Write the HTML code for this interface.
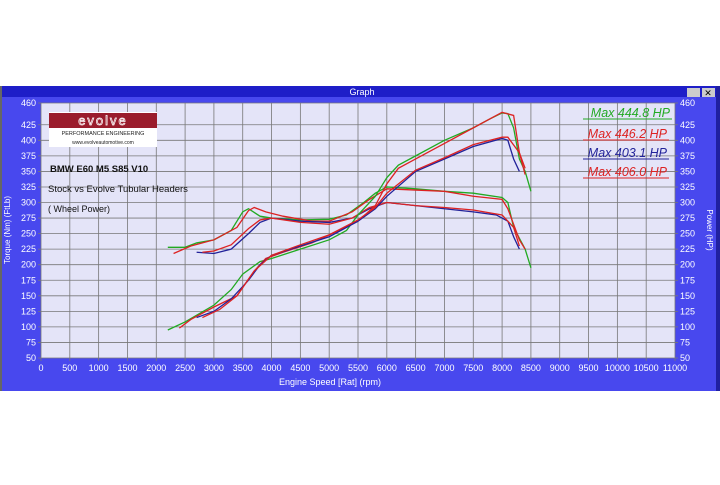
<!DOCTYPE html>
<html><head><meta charset="utf-8"><style>
body{margin:0;width:720px;height:480px;background:#fff;overflow:hidden;font-family:"Liberation Sans",sans-serif}
</style></head><body>
<svg width="720" height="480" xmlns="http://www.w3.org/2000/svg" font-family="Liberation Sans, sans-serif">
<rect x="0" y="86" width="720" height="305" fill="#4848ee"/>
<rect x="0" y="86" width="720" height="11" fill="#1e1ec8"/>
<rect x="0" y="86" width="2" height="305" fill="#666"/>
<rect x="716" y="86" width="4" height="305" fill="#2020a0"/>
<text x="362" y="95" font-size="9" fill="#fff" text-anchor="middle">Graph</text>
<rect x="687" y="88" width="13" height="9" fill="#ccc"/><rect x="702" y="88" width="13" height="9" fill="#ccc"/>
<text x="708" y="96" font-size="9" text-anchor="middle">✕</text>
<rect x="41" y="103" width="634" height="255" fill="#e4e4f8"/>
<g id="grid" stroke="#777" stroke-width="0.8"></g>
<g id="lbl" font-size="9" fill="#fff"></g>
<text x="10" y="230" font-size="8" fill="#fff" transform="rotate(-90 10 230)" text-anchor="middle">Torque (Nm) (FtLb)</text>
<text x="707" y="230" font-size="8" fill="#fff" transform="rotate(90 707 230)" text-anchor="middle">Power (HP)</text>
<text x="330" y="385" font-size="9" fill="#fff" text-anchor="middle">Engine Speed [Rat] (rpm)</text>
<rect x="49" y="112" width="108" height="35" fill="#fff"/>
<rect x="49" y="113" width="108" height="15" fill="#9a1c2c"/>
<text x="103" y="125" font-size="13" fill="none" stroke="#fff" stroke-width="0.7" text-anchor="middle" letter-spacing="2">evolve</text>
<text x="103" y="135" font-size="5.5" fill="#222" text-anchor="middle">PERFORMANCE ENGINEERING</text>
<text x="103" y="144" font-size="5" fill="#222" text-anchor="middle">www.evolveautomotive.com</text>
<text x="50" y="172" font-size="9.5" font-weight="bold" fill="#111">BMW E60 M5 S85 V10</text>
<text x="48" y="192" font-size="9.5" fill="#111">Stock vs Evolve Tubular Headers</text>
<text x="48" y="212" font-size="9" fill="#111">( Wheel Power)</text>
<g font-size="12.5" font-style="italic" text-anchor="end">
<text x="670" y="117" fill="#22aa22">Max 444.8 HP</text><line x1="583" y1="119" x2="672" y2="119" stroke="#22aa22"/>
<text x="667" y="138" fill="#dd2222">Max 446.2 HP</text><line x1="583" y1="140" x2="669" y2="140" stroke="#dd2222"/>
<text x="667" y="157" fill="#222299">Max 403.1 HP</text><line x1="583" y1="159" x2="669" y2="159" stroke="#222299"/>
<text x="667" y="176" fill="#dd2222">Max 406.0 HP</text><line x1="583" y1="178" x2="669" y2="178" stroke="#dd2222"/>
</g>
<g id="curves" fill="none" stroke-width="1.3"></g>
</svg>
<script>
var NS="http://www.w3.org/2000/svg";
function X(r){return 41+r*634/11000}
function Y(v){return 358-(v-50)*255/410}
var g=document.getElementById('grid'),l=document.getElementById('lbl');
function el(p,t,a,txt){var e=document.createElementNS(NS,t);for(var k in a)e.setAttribute(k,a[k]);if(txt!==undefined)e.textContent=String(txt);p.appendChild(e);return e}
for(var r=0;r<=11000;r+=500){el(g,'line',{x1:X(r),x2:X(r),y1:103,y2:361});el(l,'text',{x:X(r),y:371,'text-anchor':'middle'},r)}
var vs=[50,75,100,125,150,175,200,225,250,275,300,325,350,375,400,425,460];
vs.forEach(function(vv){el(g,'line',{x1:38,x2:678,y1:Y(vv),y2:Y(vv)});el(l,'text',{x:36,y:Y(vv)+3,'text-anchor':'end'},vv);el(l,'text',{x:680,y:Y(vv)+3},vv);});
var c=document.getElementById('curves');
var S=[
['#22aa22',[[2200,228],[2500,228],[2700,235],[3000,240],[3300,255],[3500,285],[3600,290],[3800,278],[4000,275],[4500,272],[5000,273],[5300,280],[5600,300],[5800,315],[6000,325],[6500,322],[7000,318],[7500,315],[8000,308],[8100,300],[8200,260],[8400,225],[8500,195]]],
['#dd2222',[[2300,218],[2600,230],[3000,240],[3400,260],[3600,287],[3700,292],[3900,285],[4200,278],[4700,270],[5000,270],[5400,285],[5700,305],[6000,322],[6500,320],[7000,318],[7500,310],[8000,305],[8100,290],[8300,240],[8400,225]]],
['#222299',[[2700,220],[3000,218],[3300,225],[3600,250],[3800,268],[4000,275],[4500,270],[5000,268],[5400,275],[5700,290],[6000,300],[6500,295],[7000,290],[7500,285],[7900,280],[8100,270],[8200,245],[8300,225]]],
['#dd2222',[[2800,220],[3000,222],[3300,232],[3600,258],[3800,272],[4000,275],[4500,268],[5000,265],[5400,275],[5700,292],[6000,300],[6500,295],[7000,292],[7500,288],[8000,280],[8200,260],[8300,230]]],
['#22aa22',[[2200,95],[2500,108],[3000,135],[3300,160],[3500,185],[3800,205],[4000,210],[4500,225],[5000,240],[5300,255],[5500,280],[5800,310],[6000,340],[6200,360],[6500,375],[7000,400],[7500,420],[7800,435],[8000,444],[8100,443],[8200,420],[8300,370],[8400,350],[8500,318]]],
['#dd2222',[[2400,98],[2600,112],[3000,132],[3400,150],[3700,190],[3900,210],[4200,220],[4700,235],[5000,248],[5500,270],[5800,295],[6000,330],[6200,355],[6500,370],[7000,395],[7500,420],[8000,445],[8200,440],[8300,380],[8400,345]]],
['#222299',[[2700,115],[3000,125],[3300,145],[3600,175],[3800,200],[4000,215],[4500,230],[5000,245],[5500,270],[5800,290],[6000,310],[6500,350],[7000,370],[7500,390],[8000,403],[8100,400],[8200,370],[8300,350]]],
['#dd2222',[[2800,115],[3100,128],[3400,150],[3700,190],[4000,215],[4500,232],[5000,248],[5500,272],[5800,292],[6000,315],[6500,352],[7000,372],[7500,393],[8000,405],[8100,405],[8300,380],[8400,355]]]
];
S.forEach(function(s){el(c,'polyline',{stroke:s[0],points:s[1].map(function(p){return X(p[0])+','+Y(p[1])}).join(' ')})});
</script>
</body></html>
